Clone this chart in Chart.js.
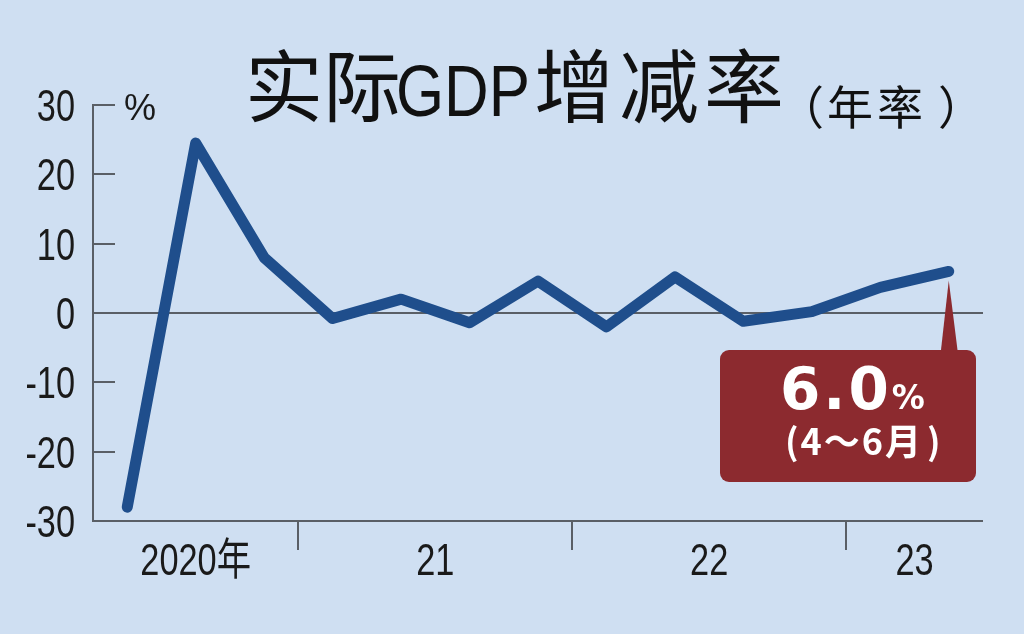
<!DOCTYPE html>
<html>
<head>
<meta charset="utf-8">
<script src="https://cdn.jsdelivr.net/npm/chart.js@4"></script>
<style>
  html, body { margin: 0; padding: 0; background: #cfdff2; }
  #wrap { width: 1024px; height: 634px; position: relative; }
</style>
</head>
<body>
<div id="wrap"><canvas id="gdp" width="1024" height="634"></canvas></div>
<script>
// quarterly real GDP growth, annualised (%)
const quarters = ['2020年4-6月', '2020年7-9月', '2020年10-12月',
  '2021年1-3月', '2021年4-6月', '2021年7-9月', '2021年10-12月',
  '2022年1-3月', '2022年4-6月', '2022年7-9月', '2022年10-12月',
  '2023年1-3月', '2023年4-6月'];
const growth = [-28, 24.5, 8, -0.8, 2, -1.4, 4.6, -2, 5.2, -1.2, 0.2, 3.7, 6.0];
const yearLabels = ['2020年', '21', '22', '23'];
const yearOfQuarter = [0, 0, 0, 1, 1, 1, 1, 2, 2, 2, 2, 3, 3];
const yTicks = [-30, -20, -10, 0, 10, 20, 30];

const axisColor = '#5a5f66';
const textColor = '#1a1a1a';
const numFont = '44px "Liberation Sans", "Noto Sans CJK JP", sans-serif';
const squeeze = 0.78;   // the original uses a condensed face

// draw text squeezed horizontally, anchored by align
function narrowText(ctx, txt, x, y, align) {
    const w = ctx.measureText(txt).width * squeeze;
    let x0 = x;
    if (align === 'right') x0 = x - w;
    if (align === 'center') x0 = x - w / 2;
    ctx.save();
    ctx.translate(x0, y);
    ctx.scale(squeeze, 1);
    ctx.textAlign = 'left';
    ctx.fillText(txt, 0, 0);
    ctx.restore();
}

const decor = {
    id: 'decor',
    beforeDatasetsDraw(chart) {
        const { ctx, chartArea: a, scales: { x, y } } = chart;
        ctx.save();
        ctx.strokeStyle = axisColor;
        ctx.lineWidth = 2;
        ctx.beginPath();
        // inward tick marks, zero line across the plot
        yTicks.forEach(v => {
            const py = Math.round(y.getPixelForValue(v));
            ctx.moveTo(a.left, py);
            ctx.lineTo(v === 0 ? a.right : a.left + 22, py);
        });
        ctx.moveTo(a.left, a.bottom);
        ctx.lineTo(a.right, a.bottom);
        // year dividers below the axis
        for (let i = 1; i < quarters.length; i++) {
            if (yearOfQuarter[i] !== yearOfQuarter[i - 1]) {
                const px = Math.round((x.getPixelForValue(i - 1) + x.getPixelForValue(i)) / 2);
                ctx.moveTo(px, a.bottom);
                ctx.lineTo(px, a.bottom + 29);
            }
        }
        ctx.stroke();

        ctx.fillStyle = textColor;
        ctx.font = numFont;
        ctx.textBaseline = 'alphabetic';
        // y tick labels
        yTicks.forEach(v => {
            narrowText(ctx, String(v), a.left - 18, y.getPixelForValue(v) + 16, 'right');
        });
        // year labels, centred under each year's quarters
        yearLabels.forEach((lab, yi) => {
            const idx = yearOfQuarter.map((q, i) => q === yi ? i : -1).filter(i => i >= 0);
            const cx = idx.reduce((s, i) => s + x.getPixelForValue(i), 0) / idx.length;
            narrowText(ctx, lab, cx, a.bottom + 54, 'center');
        });

        // unit
        ctx.font = '36px "Liberation Sans", sans-serif';
        ctx.textAlign = 'left';
        ctx.fillText('%', a.left + 31, a.top + 15);

        // title
        ctx.fillStyle = '#111';
        ctx.font = '78px "Noto Sans CJK SC"';
        ctx.fillText('实际', 245, 116);
        ctx.font = '72px "Liberation Sans", sans-serif';
        const gw = ctx.measureText('GDP').width;
        ctx.save();
        ctx.translate(396, 116);
        ctx.scale(134 / gw, 1);
        ctx.fillText('GDP', 0, 0);
        ctx.restore();
        ctx.font = '80px "Noto Sans CJK SC"';
        ctx.letterSpacing = '5px';
        ctx.fillText('增减率', 534, 116);
        ctx.letterSpacing = '0px';
        ctx.font = '46px "Noto Sans CJK SC"';
        ctx.fillText('（', 778, 124);
        ctx.letterSpacing = '4px';
        ctx.fillText('年率', 827, 124);
        ctx.letterSpacing = '0px';
        ctx.fillText('）', 938, 124);
        ctx.restore();
    },
    afterDatasetsDraw(chart) {
        const { ctx, scales: { x, y } } = chart;
        const last = growth.length - 1;
        const px = x.getPixelForValue(last);
        const py = y.getPixelForValue(growth[last]);
        const left = 720, right = 976, top = 350, bottom = 482;
        ctx.save();
        ctx.fillStyle = '#8c2a2f';
        ctx.beginPath();
        ctx.moveTo(px, py + 9);
        ctx.lineTo(px + 9, top + 2);
        ctx.lineTo(px - 8, top + 2);
        ctx.closePath();
        ctx.fill();
        ctx.beginPath();
        ctx.roundRect(left, top, right - left, bottom - top, 9);
        ctx.fill();

        ctx.fillStyle = '#fff';
        ctx.textBaseline = 'alphabetic';
        ctx.textAlign = 'left';
        const big = growth[last].toFixed(1);
        ctx.font = 'bold 58px "DejaVu Sans", sans-serif';
        ctx.letterSpacing = '3px';
        const bw = ctx.measureText(big).width;
        ctx.fillText(big, 780, 409);
        ctx.letterSpacing = '0px';
        ctx.font = 'bold 33px "DejaVu Sans", sans-serif';
        ctx.fillText('%', 780 + bw, 409);
        ctx.font = 'bold 36px "Noto Sans CJK JP"';
        ctx.letterSpacing = '2px';
        ctx.fillText('(4〜6月', 785, 455);
        ctx.letterSpacing = '0px';
        ctx.fillText(')', 927, 455);
        ctx.restore();
    }
};

new Chart(document.getElementById('gdp'), {
    type: 'line',
    data: {
        labels: quarters,
        datasets: [{
            data: growth,
            borderColor: '#1f4e8c',
            borderWidth: 11,
            borderJoinStyle: 'round',
            borderCapStyle: 'round',
            pointRadius: 0,
            tension: 0,
            clip: false
        }]
    },
    options: {
        responsive: false,
        devicePixelRatio: 1,
        animation: false,
        layout: { padding: { left: 0, right: 41, top: 105, bottom: 113 } },
        plugins: { legend: { display: false }, tooltip: { enabled: false } },
        scales: {
            x: { type: 'category', offset: true, display: false },
            y: {
                min: -30, max: 30,
                afterFit: s => { s.width = 93; },
                afterBuildTicks: s => { s.ticks = yTicks.map(v => ({ value: v })); },
                grid: { display: false, drawTicks: false },
                border: { display: true, color: axisColor, width: 2 },
                ticks: { display: false }
            }
        }
    },
    plugins: [decor]
});
</script>
</body>
</html>
